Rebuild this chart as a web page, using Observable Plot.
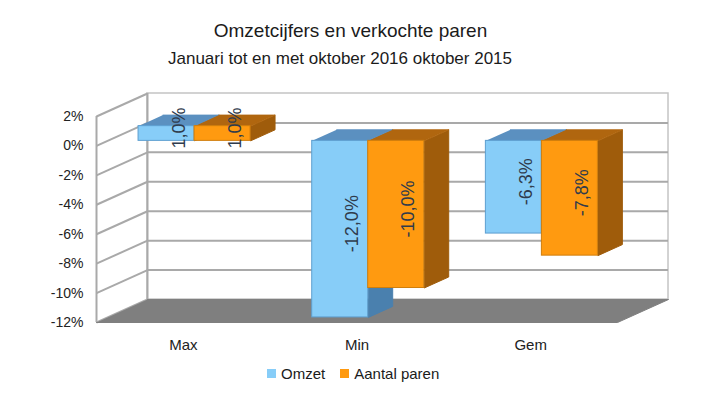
<!DOCTYPE html>
<html><head><meta charset="utf-8">
<script src="https://cdn.jsdelivr.net/npm/d3@7"></script>
<script src="https://cdn.jsdelivr.net/npm/@observablehq/plot@0.6"></script>
<style>
body{margin:0;background:#fff;font-family:"Liberation Sans",Arial,sans-serif;}
#wrap{position:relative;width:704px;height:395px;overflow:hidden;background:#fff}
.t{position:absolute;left:0;text-align:center;line-height:1;color:#1b1b1b;white-space:nowrap}
#legend{position:absolute;left:267px;top:366px;display:flex;align-items:center;font-size:15px;line-height:1;color:#1b1b1b}
#legend .sw{display:inline-block;width:9px;height:9px;margin-right:5px}
#legend .it{display:flex;align-items:center;margin-right:15px}
</style></head><body><div id="wrap"></div>
<script>
const title = "Omzetcijfers en verkochte paren";
const subtitle = "Januari tot en met oktober 2016 oktober 2015";
const categories = ["Max", "Min", "Gem"];
const series = ["Omzet", "Aantal paren"];
const omzet = [1.0, -12.0, -6.3];
const aantalParen = [1.0, -10.0, -7.8];
const yTicks = [2, 0, -2, -4, -6, -8, -10, -12];

const frontColors = ["#87cdf8", "#ff9a10"];
const topColors = ["#5b90c0", "#b0660f"];
const sideColors = ["#4a80ae", "#9f5c0b"];
const edgeColors = ["#5e9fd0", "#d07e0c"];
const gridColor = "#a9a9a9";

// frame geometry (front plane) and depth offsets
const W = 704, H = 395, mL = 96, mR = 87, mT = 116, mB = 73;
const yMin = -12, yMax = 2, nCat = categories.length;
const kx = (W - mL - mR) / nCat, ky = (H - mT - mB) / (yMax - yMin);
const DX = 51 / kx, DY = 23 / ky;   // full depth in data units
const zf = 0.22, zb = 0.70, zm = (zf + zb) / 2, bw = 0.3225;

const values = [omzet, aantalParen];
const bars = categories.flatMap((c, i) => values.map((arr, s) => {
  const v = arr[i];
  const x0 = i + 0.5 - bw + s * bw;
  return {c, s, v, k: i * 2 + s, x0, x1: x0 + bw, y0: Math.min(0, v), y1: Math.max(0, v)};
}));
const P = (k, s, x, y, z) => ({k, s, x: x + z * DX, y: y + z * DY});
const sides = bars.flatMap(b => [
  P(b.k, b.s, b.x1, b.y1, zf), P(b.k, b.s, b.x1, b.y0, zf), P(b.k, b.s, b.x1, b.y0, zb), P(b.k, b.s, b.x1, b.y1, zb)]);
const tops = bars.flatMap(b => [
  P(b.k, b.s, b.x0, b.y1, zf), P(b.k, b.s, b.x1, b.y1, zf), P(b.k, b.s, b.x1, b.y1, zb), P(b.k, b.s, b.x0, b.y1, zb)]);
const floor = [P(0, 0, 0, yMin, 0), P(0, 0, nCat, yMin, 0), P(0, 0, nCat, yMin, 1), P(0, 0, 0, yMin, 1)];
const fmt = v => v.toFixed(1).replace(".", ",") + "%";

const marks = [
  // back wall
  Plot.rect([0], {x1: () => DX, x2: () => nCat + DX, y1: () => yMin + DY, y2: () => yMax + DY, fill: "white", stroke: "#c4c4c4", strokeWidth: 1.5}),
  Plot.ruleY(yTicks.filter(t => t > yMin && t < yMax), {y: d => d + DY, x1: () => DX, x2: () => nCat + DX, stroke: gridColor, strokeWidth: 2}),
  Plot.ruleX([0], {x: () => DX, y1: () => yMin + DY, y2: () => yMax + DY, stroke: gridColor, strokeWidth: 2}),
  // left side wall
  Plot.link(yTicks, {x1: () => 0, x2: () => DX, y1: d => d, y2: d => d + DY, stroke: gridColor, strokeWidth: 2}),
  Plot.ruleX([0], {x: () => 0, y1: () => yMin, y2: () => yMax, stroke: gridColor, strokeWidth: 2}),
  // floor
  Plot.line(floor, {x: "x", y: "y", fill: "#7f7f7f", stroke: "#7f7f7f", strokeWidth: 1}),
];
for (const s of [0, 1]) marks.push(Plot.line(sides.filter(d => d.s === s), {x: "x", y: "y", z: "k", fill: sideColors[s], stroke: sideColors[s], strokeWidth: 1}));
for (const s of [0, 1]) marks.push(Plot.line(tops.filter(d => d.s === s), {x: "x", y: "y", z: "k", fill: topColors[s], stroke: topColors[s], strokeWidth: 1}));
for (const s of [0, 1]) marks.push(Plot.rect(bars.filter(d => d.s === s), {
  x1: b => b.x0 + zf * DX, x2: b => b.x1 + zf * DX, y1: b => b.y0 + zf * DY, y2: b => b.y1 + zf * DY,
  fill: frontColors[s], stroke: edgeColors[s], strokeWidth: 1}));
marks.push(
  Plot.text(bars, {x: b => (b.x0 + b.x1) / 2 + zm * DX, y: b => (b.y0 + b.y1) / 2 + zm * DY, text: b => fmt(b.v), rotate: -90, fontSize: 18, fill: "#2f3b4c"}),
  Plot.text(yTicks, {x: () => 0, y: d => d, text: d => d + "%", textAnchor: "end", dx: -13, fontSize: 14, fill: "#222"}),
  Plot.text(categories, {x: (d, i) => i + 0.5, y: () => yMin, text: d => d, dy: 23, fontSize: 15, fill: "#222"})
);

const svg = Plot.plot({
  width: W, height: H, marginLeft: mL, marginRight: mR, marginTop: mT, marginBottom: mB,
  x: {domain: [0, nCat], axis: null},
  y: {domain: [yMin, yMax], axis: null},
  style: {fontFamily: "'Liberation Sans', Arial, sans-serif", background: "white", overflow: "visible"},
  marks
});
const wrap = document.getElementById("wrap");
wrap.appendChild(svg);

const t1 = document.createElement("div");
t1.className = "t"; t1.textContent = title;
t1.style.cssText = "top:21px;width:701px;font-size:19px;";
const t2 = document.createElement("div");
t2.className = "t"; t2.textContent = subtitle;
t2.style.cssText = "top:50px;width:680px;font-size:17px;";
wrap.appendChild(t1); wrap.appendChild(t2);

const lg = document.createElement("div");
lg.id = "legend";
series.forEach((name, s) => {
  const it = document.createElement("span"); it.className = "it";
  const sw = document.createElement("span"); sw.className = "sw"; sw.style.background = frontColors[s];
  it.appendChild(sw); it.appendChild(document.createTextNode(name));
  lg.appendChild(it);
});
wrap.appendChild(lg);
</script></body></html>
